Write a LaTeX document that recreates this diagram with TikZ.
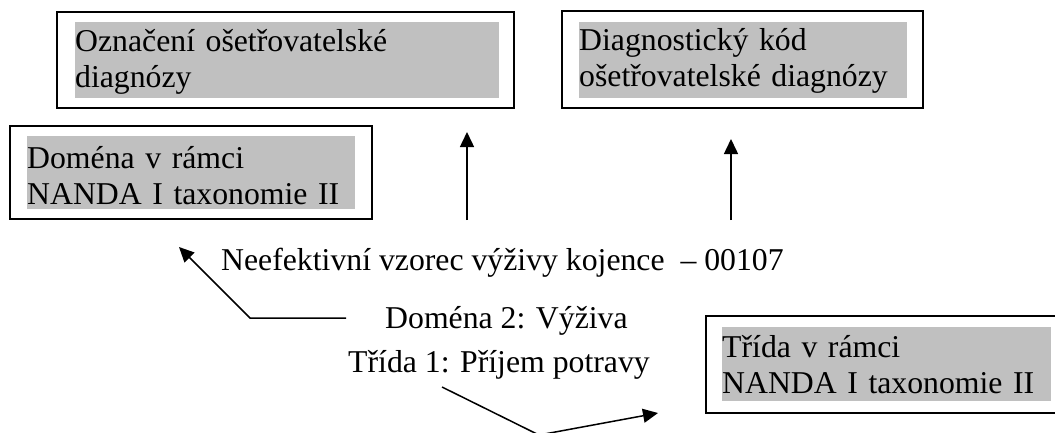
\documentclass[tikz,border=0pt]{standalone}
\usepackage{fontspec}
\setmainfont{Liberation Serif}
\usetikzlibrary{arrows.meta}
\definecolor{boxgray}{HTML}{C0C0C0}
\begin{document}
\begin{tikzpicture}[x=1pt,y=-1pt,
  outerbox/.style={draw, line width=2pt, rectangle, inner sep=0pt},
  graybox/.style={fill=boxgray, inner sep=0pt, align=left, anchor=north west,
    font=\fontsize{31.75}{36}\selectfont},
  lbl/.style={inner sep=0pt, anchor=base west, font=\fontsize{31.75}{36}\selectfont},
  arr/.style={-{Triangle[length=15pt,width=14pt]}, line width=1.5pt}]
\useasboundingbox (0,0) rectangle (1055,432);

% boxes
\node[outerbox, minimum width=457pt, minimum height=96pt] (b1) at (285.5,60) {};
\node[graybox, text width=424pt, text height=29pt, text depth=47pt] (g1) at (75,22) {Označení ošetřovatelské\\diagnózy};

\node[outerbox, minimum width=361pt, minimum height=97pt] (b3) at (742.5,59.5) {};
\node[graybox, text width=328pt, text height=28pt, text depth=48pt] (g3) at (579,22) {Diagnostický kód\\ošetřovatelské diagnózy};

\node[outerbox, minimum width=362pt, minimum height=93pt] (b2) at (191,172.5) {};
\node[graybox, text width=328pt, text height=32pt, text depth=41pt] (g2) at (27,136) {Doména v rámci\\NANDA I taxonomie II};

\node[outerbox, minimum width=360pt, minimum height=97pt] (b4) at (886,364.5) {};
\node[graybox, text width=329pt, text height=30pt, text depth=44pt] (g4) at (722,327) {Třída v rámci\\NANDA I taxonomie II};

% labels
\node[lbl] (main) at (221,270) {Neefektivní vzorec výživy kojence\ \ – 00107};
\node[lbl] (dom) at (385,328) {Doména 2: Výživa};
\node[lbl] (tr) at (348,372) {Třída 1: Příjem potravy};

% connectors
\coordinate (a1s) at (467,220); \coordinate (a1e) at (467,132);
\draw[arr] (a1s) -- (a1e);
\coordinate (a2s) at (731,220); \coordinate (a2e) at (731,139);
\draw[arr] (a2s) -- (a2e);
\coordinate (d0) at (346,318); \coordinate (d1) at (250,318); \coordinate (d2) at (179,247);
\draw[arr] (d0) -- (d1) -- (d2);
\coordinate (t0) at (442,387); \coordinate (t1) at (539,435); \coordinate (t2) at (658,413);
\draw[arr] (t0) -- (t1) -- (t2);
\end{tikzpicture}
\end{document}
